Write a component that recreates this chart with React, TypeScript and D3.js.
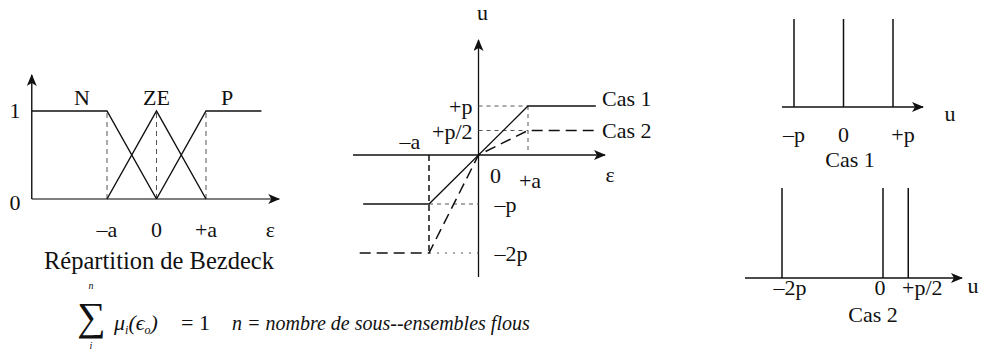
import React from 'react';
import * as d3 from 'd3';

// left panel: membership functions (x in units of a)
const setNames = ['N', 'ZE', 'P'];
const setCenters = [-1, 0, 1];
const nPoints: [number, number][] = [[-2.52, 1], [-1, 1], [0, 0]];
const zePoints: [number, number][] = [[-1, 0], [0, 1], [1, 0]];
const pPoints: [number, number][] = [[0, 0], [1, 1], [2.12, 1]];
const leftTicks = ['\u2013a', '0', '+a'];

// middle panel: control law (x in a, y in p)
const cas1Points: [number, number][] = [[-2.33, -1], [-1, -1], [1, 1], [2.37, 1]];
const cas2Points: [number, number][] = [[-2.4, -2], [-1, -2], [0, 0], [1, 0.5], [2.37, 0.5]];
const midYTicks = [1, 0.5, -1, -2];
const midYLabels = ['+p', '+p/2', '\u2013p', '\u20132p'];

// right panels: singletons (in p)
const cas1Singletons = [-1, 0, 1];
const cas1Labels = ['\u2013p', '0', '+p'];
const cas2Singletons = [-2, 0, 0.5];
const cas2Labels = ['\u20132p', '0', '+p/2'];

const FONT = '"Liberation Serif", "DejaVu Serif", serif';

export default function App() {
  const line = d3.line<[number, number]>();

  // left scales
  const xL = d3.scaleLinear().domain([-1, 1]).range([107, 206]);
  const yL = d3.scaleLinear().domain([0, 1]).range([199, 111]);
  const lp = (pts: [number, number][]) =>
    line(pts.map(([a, b]) => [xL(a), yL(b)] as [number, number]));

  // middle scales
  const xM = d3.scaleLinear().domain([-1, 1]).range([429, 528]);
  const yM = d3.scaleLinear().domain([-1, 1]).range([204, 106]);
  const mp = (pts: [number, number][]) =>
    line(pts.map(([a, b]) => [xM(a), yM(b)] as [number, number]));

  // right scales
  const xR1 = d3.scaleLinear().domain([-1, 1]).range([794, 893]);
  const xR2 = d3.scaleLinear().domain([-2, 0]).range([782, 883]);

  const ink = '#111';
  const guide = '#555';

  return (
    <svg width={982} height={351} style={{ display: 'block', position: 'absolute', left: 0, top: 0, background: '#fff' }}
      fontFamily={FONT} fontSize={22} fill={ink}>
      <defs>
        <marker id="arr" viewBox="0 0 12 10" refX="11" refY="5" markerWidth="12" markerHeight="10"
          markerUnits="userSpaceOnUse" orient="auto">
          <path d="M0,0 L12,5 L0,10 L3,5 Z" fill={ink} />
        </marker>
      </defs>

      {/* ---------- left panel ---------- */}
      <g stroke={ink} strokeWidth={1.4} fill="none">
        <line x1={xL(-2.52)} y1={yL(0)} x2={xL(2.48)} y2={yL(0)} stroke={guide} markerEnd="url(#arr)" />
        <line x1={xL(-2.52)} y1={yL(0)} x2={xL(-2.52)} y2={75} markerEnd="url(#arr)" />
        {setCenters.map(c => (
          <line key={c} x1={xL(c)} y1={yL(0)} x2={xL(c)} y2={yL(1)} stroke={guide} strokeDasharray="5,4" strokeWidth={1} />
        ))}
        <path d={lp(nPoints) || ''} />
        <path d={lp(zePoints) || ''} />
        <path d={lp(pPoints) || ''} />
      </g>
      <g>
        <text x={15} y={yL(1) + 7} textAnchor="middle">1</text>
        <text x={15} y={yL(0) + 11} textAnchor="middle">0</text>
        {setNames.map((s, i) => (
          <text key={s} x={xL(setCenters[i]) + (i === 0 ? -25 : i === 2 ? 21 : 0)} y={105} textAnchor="middle">{s}</text>
        ))}
        {leftTicks.map((t, i) => (
          <text key={t} x={xL(setCenters[i])} y={237} textAnchor="middle">{t}</text>
        ))}
        <text x={xL(2.3)} y={237} textAnchor="middle">ε</text>
        <text x={159} y={269} textAnchor="middle" fontSize={24.5}>Répartition de Bezdeck</text>
      </g>

      {/* ---------- middle panel ---------- */}
      <g stroke={ink} strokeWidth={1.3} fill="none">
        <line x1={353} y1={yM(0)} x2={605} y2={yM(0)} markerEnd="url(#arr)" />
        <line x1={xM(0)} y1={277} x2={xM(0)} y2={40} markerEnd="url(#arr)" />
        {/* guides */}
        <g stroke={guide} strokeWidth={1} strokeDasharray="4,4">
          <line x1={xM(0)} y1={yM(1)} x2={xM(1)} y2={yM(1)} />
          <line x1={xM(0)} y1={yM(0.5)} x2={xM(1)} y2={yM(0.5)} />
          <line x1={xM(1)} y1={yM(1)} x2={xM(1)} y2={yM(0)} />
          <line x1={xM(-1)} y1={yM(-1)} x2={xM(0)} y2={yM(-1)} />
          <line x1={xM(-1)} y1={yM(-2)} x2={xM(0)} y2={yM(-2)} strokeDasharray="2,6" />
        </g>
        <line x1={xM(-1)} y1={yM(0)} x2={xM(-1)} y2={yM(-2)} strokeDasharray="6,4" strokeWidth={1.5} />
        <path d={mp(cas1Points) || ''} />
        <path d={mp(cas2Points) || ''} strokeDasharray="11,6" strokeWidth={1.5} />
      </g>
      <g>
        <text x={xM(0) + 4} y={20} textAnchor="middle">u</text>
        {midYTicks.map((v, i) => (
          <text key={v} x={v > 0 ? xM(0) - 6 : xM(0) + 16} y={yM(v) + 8} textAnchor={v > 0 ? 'end' : 'start'}>{midYLabels[i]}</text>
        ))}
        <text x={xM(-1) - 19} y={yM(0) - 6} textAnchor="middle">{'\u2013a'}</text>
        <text x={xM(0) + 17} y={yM(0) + 28} textAnchor="middle">0</text>
        <text x={xM(1) + 2} y={yM(0) + 33} textAnchor="middle">+a</text>
        <text x={610} y={yM(0) + 27} textAnchor="middle">ε</text>
        <text x={602} y={yM(1)}>Cas 1</text>
        <text x={602} y={yM(0.5) + 7}>Cas 2</text>
      </g>

      {/* ---------- right top: Cas 1 ---------- */}
      <g stroke={ink} strokeWidth={1.5}>
        <line x1={782} y1={107} x2={923} y2={107} markerEnd="url(#arr)" />
        {cas1Singletons.map(v => (
          <line key={v} x1={xR1(v)} y1={107} x2={xR1(v)} y2={19} />
        ))}
      </g>
      <g>
        {cas1Singletons.map((v, i) => (
          <text key={v} x={xR1(v) + (v > 0 ? 10 : 0)} y={142} textAnchor="middle">{cas1Labels[i]}</text>
        ))}
        <text x={950} y={121} textAnchor="middle">u</text>
        <text x={850} y={167} textAnchor="middle">Cas 1</text>
      </g>

      {/* ---------- right bottom: Cas 2 ---------- */}
      <g stroke={ink} strokeWidth={1.5}>
        <line x1={745} y1={278} x2={962} y2={278} markerEnd="url(#arr)" />
        {cas2Singletons.map(v => (
          <line key={v} x1={xR2(v)} y1={278} x2={xR2(v)} y2={188} />
        ))}
      </g>
      <g>
        {cas2Singletons.map((v, i) => (
          <text key={v} x={xR2(v) + (v > 0 ? 14 : v < 0 ? 8 : -3)} y={295} textAnchor="middle">{cas2Labels[i]}</text>
        ))}
        <text x={973} y={293} textAnchor="middle">u</text>
        <text x={873} y={322} textAnchor="middle">Cas 2</text>
      </g>

      {/* ---------- formula ---------- */}
      <g>
        <text x={77} y={330} fontSize={40}>∑</text>
        <text x={91} y={289} fontSize={10} fontStyle="italic" textAnchor="middle">n</text>
        <text x={91} y={349} fontSize={10} fontStyle="italic" textAnchor="middle">i</text>
        <text x={114} y={330} fontSize={22} fontStyle="italic">
          μ<tspan fontSize={12} dy={4}>i</tspan><tspan dy={-4}>(ϵ</tspan><tspan fontSize={12} dy={4}>o</tspan><tspan dy={-4}>)</tspan>
        </text>
        <text x={181} y={330} fontSize={22}>=  1</text>
        <text x={232} y={330} fontSize={20} fontStyle="italic">n = nombre de sous--ensembles flous</text>
      </g>
    </svg>
  );
}
